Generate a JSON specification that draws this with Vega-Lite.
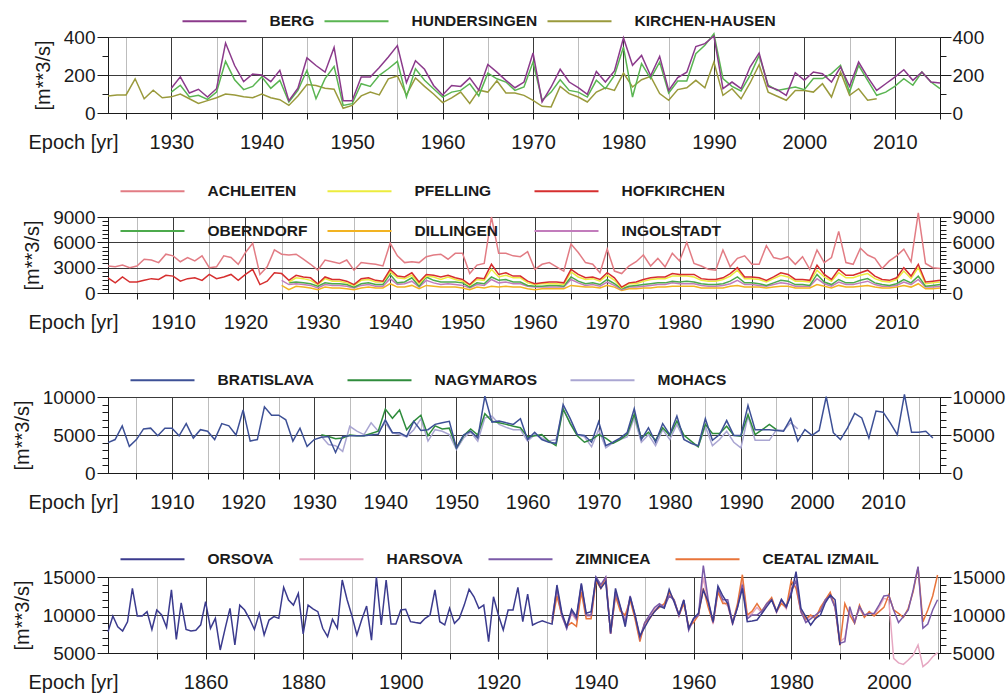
{
"$schema": "https://vega.github.io/schema/vega-lite/v6.json",
"background": "white",
"padding": {"left": 11, "top": 11, "right": 2, "bottom": 0},
"spacing": 104,
"bounds": "flush",
"config": {
  "font": "Liberation Sans",
  "view": {"stroke": "#1a1a1a", "strokeWidth": 1},
  "axis": {"labelFont": "Liberation Sans", "labelFontSize": 20, "labelColor": "#1a1a1a", "titleFont": "Liberation Sans", "titleFontSize": 20, "titleFontWeight": "normal", "titleColor": "#1a1a1a", "domainColor": "#1a1a1a", "tickColor": "#1a1a1a", "labelFlush": false, "labelOverlap": false},
  "axisY": {"labelFontSize": 19},
  "legend": {"symbolType": "M-4,0L4,0", "symbolSize": 256, "symbolStrokeWidth": 2, "labelOffset": 46, "labelFont": "Liberation Sans", "labelFontSize": 15.5, "labelFontWeight": "bold", "labelColor": "#1a1a1a", "labelLimit": 0, "padding": 0, "rowPadding": 22}
},
"resolve": {"scale": {"color": "independent", "x": "independent", "y": "independent"}, "legend": {"color": "independent"}},
"datasets": {
"p1": [
{"t":1923,"KIRCHEN-HAUSEN":90},{"t":1924,"KIRCHEN-HAUSEN":95},{"t":1925,"KIRCHEN-HAUSEN":95},{"t":1926,"KIRCHEN-HAUSEN":180},{"t":1927,"KIRCHEN-HAUSEN":75},{"t":1928,"KIRCHEN-HAUSEN":120},{"t":1929,"KIRCHEN-HAUSEN":80},
{"t":1930,"BERG":130,"HUNDERSINGEN":110,"KIRCHEN-HAUSEN":85},
{"t":1931,"BERG":190,"HUNDERSINGEN":146,"KIRCHEN-HAUSEN":100},
{"t":1932,"BERG":105,"HUNDERSINGEN":84,"KIRCHEN-HAUSEN":75},
{"t":1933,"BERG":125,"HUNDERSINGEN":93,"KIRCHEN-HAUSEN":50},
{"t":1934,"BERG":84,"HUNDERSINGEN":72,"KIRCHEN-HAUSEN":65},
{"t":1935,"BERG":128,"HUNDERSINGEN":110,"KIRCHEN-HAUSEN":80},
{"t":1936,"BERG":368,"HUNDERSINGEN":272,"KIRCHEN-HAUSEN":100},
{"t":1937,"BERG":250,"HUNDERSINGEN":175,"KIRCHEN-HAUSEN":95},
{"t":1938,"BERG":165,"HUNDERSINGEN":123,"KIRCHEN-HAUSEN":85},
{"t":1939,"BERG":205,"HUNDERSINGEN":140,"KIRCHEN-HAUSEN":80},
{"t":1940,"BERG":200,"HUNDERSINGEN":190,"KIRCHEN-HAUSEN":100},
{"t":1941,"BERG":165,"HUNDERSINGEN":130,"KIRCHEN-HAUSEN":80},
{"t":1942,"BERG":225,"HUNDERSINGEN":172,"KIRCHEN-HAUSEN":70},
{"t":1943,"BERG":65,"HUNDERSINGEN":58,"KIRCHEN-HAUSEN":40},
{"t":1944,"BERG":130,"HUNDERSINGEN":119,"KIRCHEN-HAUSEN":90},
{"t":1945,"BERG":290,"HUNDERSINGEN":225,"KIRCHEN-HAUSEN":150},
{"t":1946,"BERG":250,"HUNDERSINGEN":75,"KIRCHEN-HAUSEN":145},
{"t":1947,"BERG":215,"HUNDERSINGEN":181,"KIRCHEN-HAUSEN":130},
{"t":1948,"BERG":345,"HUNDERSINGEN":245,"KIRCHEN-HAUSEN":125},
{"t":1949,"BERG":65,"HUNDERSINGEN":40,"KIRCHEN-HAUSEN":25},
{"t":1950,"BERG":65,"HUNDERSINGEN":49,"KIRCHEN-HAUSEN":40},
{"t":1951,"BERG":190,"HUNDERSINGEN":154,"KIRCHEN-HAUSEN":90},
{"t":1952,"BERG":190,"HUNDERSINGEN":140,"KIRCHEN-HAUSEN":110},
{"t":1953,"BERG":240,"HUNDERSINGEN":198,"KIRCHEN-HAUSEN":95},
{"t":1954,"BERG":295,"HUNDERSINGEN":233,"KIRCHEN-HAUSEN":180},
{"t":1955,"BERG":355,"HUNDERSINGEN":272,"KIRCHEN-HAUSEN":195},
{"t":1956,"BERG":160,"HUNDERSINGEN":84,"KIRCHEN-HAUSEN":95},
{"t":1957,"BERG":275,"HUNDERSINGEN":233,"KIRCHEN-HAUSEN":185},
{"t":1958,"BERG":230,"HUNDERSINGEN":172,"KIRCHEN-HAUSEN":140},
{"t":1959,"BERG":145,"HUNDERSINGEN":128,"KIRCHEN-HAUSEN":100},
{"t":1960,"BERG":95,"HUNDERSINGEN":84,"KIRCHEN-HAUSEN":55},
{"t":1961,"BERG":145,"HUNDERSINGEN":110,"KIRCHEN-HAUSEN":80},
{"t":1962,"BERG":140,"HUNDERSINGEN":119,"KIRCHEN-HAUSEN":110},
{"t":1963,"BERG":185,"HUNDERSINGEN":154,"KIRCHEN-HAUSEN":50},
{"t":1964,"BERG":120,"HUNDERSINGEN":90,"KIRCHEN-HAUSEN":120},
{"t":1965,"BERG":255,"HUNDERSINGEN":210,"KIRCHEN-HAUSEN":110},
{"t":1966,"BERG":215,"HUNDERSINGEN":180,"KIRCHEN-HAUSEN":170},
{"t":1967,"BERG":172,"HUNDERSINGEN":163,"KIRCHEN-HAUSEN":105},
{"t":1968,"BERG":133,"HUNDERSINGEN":119,"KIRCHEN-HAUSEN":105},
{"t":1969,"BERG":163,"HUNDERSINGEN":137,"KIRCHEN-HAUSEN":93},
{"t":1970,"BERG":316,"HUNDERSINGEN":268,"KIRCHEN-HAUSEN":67},
{"t":1971,"BERG":58,"HUNDERSINGEN":67,"KIRCHEN-HAUSEN":35},
{"t":1972,"BERG":137,"HUNDERSINGEN":110,"KIRCHEN-HAUSEN":32},
{"t":1973,"BERG":230,"HUNDERSINGEN":175,"KIRCHEN-HAUSEN":140},
{"t":1974,"BERG":163,"HUNDERSINGEN":119,"KIRCHEN-HAUSEN":102},
{"t":1975,"BERG":133,"HUNDERSINGEN":110,"KIRCHEN-HAUSEN":84},
{"t":1976,"BERG":98,"HUNDERSINGEN":84,"KIRCHEN-HAUSEN":58},
{"t":1977,"BERG":219,"HUNDERSINGEN":172,"KIRCHEN-HAUSEN":110},
{"t":1978,"BERG":163,"HUNDERSINGEN":128,"KIRCHEN-HAUSEN":133},
{"t":1979,"BERG":221,"HUNDERSINGEN":198,"KIRCHEN-HAUSEN":119},
{"t":1980,"BERG":395,"HUNDERSINGEN":347,"KIRCHEN-HAUSEN":210},
{"t":1981,"BERG":251,"HUNDERSINGEN":84,"KIRCHEN-HAUSEN":137},
{"t":1982,"BERG":303,"HUNDERSINGEN":260,"KIRCHEN-HAUSEN":175},
{"t":1983,"BERG":196,"HUNDERSINGEN":181,"KIRCHEN-HAUSEN":193},
{"t":1984,"BERG":298,"HUNDERSINGEN":268,"KIRCHEN-HAUSEN":102},
{"t":1985,"BERG":119,"HUNDERSINGEN":105,"KIRCHEN-HAUSEN":67},
{"t":1986,"BERG":186,"HUNDERSINGEN":168,"KIRCHEN-HAUSEN":123},
{"t":1987,"BERG":215,"HUNDERSINGEN":168,"KIRCHEN-HAUSEN":133},
{"t":1988,"BERG":350,"HUNDERSINGEN":312,"KIRCHEN-HAUSEN":172},
{"t":1989,"BERG":365,"HUNDERSINGEN":356,"KIRCHEN-HAUSEN":133},
{"t":1990,"BERG":405,"HUNDERSINGEN":417,"KIRCHEN-HAUSEN":268},
{"t":1991,"BERG":128,"HUNDERSINGEN":181,"KIRCHEN-HAUSEN":93},
{"t":1992,"BERG":163,"HUNDERSINGEN":140,"KIRCHEN-HAUSEN":128},
{"t":1993,"BERG":128,"HUNDERSINGEN":116,"KIRCHEN-HAUSEN":75},
{"t":1994,"BERG":242,"HUNDERSINGEN":198,"KIRCHEN-HAUSEN":158},
{"t":1995,"BERG":316,"HUNDERSINGEN":303,"KIRCHEN-HAUSEN":254},
{"t":1996,"BERG":140,"HUNDERSINGEN":146,"KIRCHEN-HAUSEN":110},
{"t":1997,"BERG":123,"HUNDERSINGEN":119,"KIRCHEN-HAUSEN":88},
{"t":1998,"BERG":93,"HUNDERSINGEN":128,"KIRCHEN-HAUSEN":67},
{"t":1999,"BERG":212,"HUNDERSINGEN":137,"KIRCHEN-HAUSEN":119},
{"t":2000,"BERG":172,"HUNDERSINGEN":123,"KIRCHEN-HAUSEN":119},
{"t":2001,"BERG":216,"HUNDERSINGEN":181,"KIRCHEN-HAUSEN":110},
{"t":2002,"BERG":207,"HUNDERSINGEN":181,"KIRCHEN-HAUSEN":154},
{"t":2003,"BERG":163,"HUNDERSINGEN":207,"KIRCHEN-HAUSEN":84},
{"t":2004,"BERG":242,"HUNDERSINGEN":251,"KIRCHEN-HAUSEN":216},
{"t":2005,"BERG":140,"HUNDERSINGEN":110,"KIRCHEN-HAUSEN":93},
{"t":2006,"BERG":268,"HUNDERSINGEN":251,"KIRCHEN-HAUSEN":128},
{"t":2007,"BERG":189,"HUNDERSINGEN":172,"KIRCHEN-HAUSEN":67},
{"t":2008,"BERG":119,"HUNDERSINGEN":93,"KIRCHEN-HAUSEN":75},
{"t":2009,"BERG":154,"HUNDERSINGEN":110},
{"t":2010,"BERG":189,"HUNDERSINGEN":140},
{"t":2011,"BERG":228,"HUNDERSINGEN":181},
{"t":2012,"BERG":172,"HUNDERSINGEN":146},
{"t":2013,"BERG":216,"HUNDERSINGEN":216},
{"t":2014,"BERG":163,"HUNDERSINGEN":163},
{"t":2015,"BERG":158,"HUNDERSINGEN":128}
],
"p2": [
{"t":1901,"ACHLEITEN":3200,"HOFKIRCHEN":1800},{"t":1902,"ACHLEITEN":3100,"HOFKIRCHEN":1200},{"t":1903,"ACHLEITEN":3300,"HOFKIRCHEN":1900},{"t":1904,"ACHLEITEN":3000,"HOFKIRCHEN":1300},{"t":1905,"ACHLEITEN":3200,"HOFKIRCHEN":1300},
{"t":1906,"ACHLEITEN":4000,"HOFKIRCHEN":1500},{"t":1907,"ACHLEITEN":3900,"HOFKIRCHEN":1700},{"t":1908,"ACHLEITEN":3600,"HOFKIRCHEN":1600},{"t":1909,"ACHLEITEN":4600,"HOFKIRCHEN":2100},{"t":1910,"ACHLEITEN":4400,"HOFKIRCHEN":2000},
{"t":1911,"ACHLEITEN":3700,"HOFKIRCHEN":1400},{"t":1912,"ACHLEITEN":4200,"HOFKIRCHEN":1700},{"t":1913,"ACHLEITEN":3800,"HOFKIRCHEN":1800},{"t":1914,"ACHLEITEN":4400,"HOFKIRCHEN":1500},{"t":1915,"ACHLEITEN":3000,"HOFKIRCHEN":2200},
{"t":1916,"ACHLEITEN":3100,"HOFKIRCHEN":1700},{"t":1917,"ACHLEITEN":4400,"HOFKIRCHEN":1900},{"t":1918,"ACHLEITEN":4200,"HOFKIRCHEN":2200},{"t":1919,"ACHLEITEN":3400,"HOFKIRCHEN":1500},{"t":1920,"ACHLEITEN":4800,"HOFKIRCHEN":2200},
{"t":1921,"ACHLEITEN":5900,"HOFKIRCHEN":2800},{"t":1922,"ACHLEITEN":2200,"HOFKIRCHEN":1000},{"t":1923,"ACHLEITEN":3100,"HOFKIRCHEN":1400},{"t":1924,"ACHLEITEN":5100,"HOFKIRCHEN":2400},
{"t":1925,"ACHLEITEN":4600,"HOFKIRCHEN":2300,"DILLINGEN":900,"INGOLSTADT":1500},
{"t":1926,"ACHLEITEN":4500,"HOFKIRCHEN":1500,"PFELLING":1300,"OBERNDORF":1200,"DILLINGEN":400,"INGOLSTADT":1000},
{"t":1927,"ACHLEITEN":4600,"HOFKIRCHEN":2100,"PFELLING":1800,"OBERNDORF":1300,"DILLINGEN":800,"INGOLSTADT":1100},
{"t":1928,"ACHLEITEN":4000,"HOFKIRCHEN":1900,"PFELLING":1700,"OBERNDORF":1200,"DILLINGEN":700,"INGOLSTADT":1000},
{"t":1929,"ACHLEITEN":3400,"HOFKIRCHEN":1800,"PFELLING":1500,"OBERNDORF":1100,"DILLINGEN":600,"INGOLSTADT":900},
{"t":1930,"ACHLEITEN":2700,"HOFKIRCHEN":1100,"PFELLING":1000,"OBERNDORF":800,"DILLINGEN":400,"INGOLSTADT":600},
{"t":1931,"ACHLEITEN":3900,"HOFKIRCHEN":1900,"PFELLING":1700,"OBERNDORF":1200,"DILLINGEN":700,"INGOLSTADT":1000},
{"t":1932,"ACHLEITEN":3700,"HOFKIRCHEN":1600,"PFELLING":1400,"OBERNDORF":1100,"DILLINGEN":600,"INGOLSTADT":900},
{"t":1933,"ACHLEITEN":3500,"HOFKIRCHEN":1600,"PFELLING":1400,"OBERNDORF":1100,"DILLINGEN":600,"INGOLSTADT":900},
{"t":1934,"ACHLEITEN":3900,"HOFKIRCHEN":1400,"PFELLING":1200,"OBERNDORF":1000,"DILLINGEN":500,"INGOLSTADT":800},
{"t":1935,"ACHLEITEN":2700,"HOFKIRCHEN":1000,"PFELLING":900,"OBERNDORF":700,"DILLINGEN":400,"INGOLSTADT":600},
{"t":1936,"ACHLEITEN":3600,"HOFKIRCHEN":1700,"PFELLING":1500,"OBERNDORF":1100,"DILLINGEN":600,"INGOLSTADT":900},
{"t":1937,"ACHLEITEN":3500,"HOFKIRCHEN":1800,"PFELLING":1600,"OBERNDORF":1200,"DILLINGEN":700,"INGOLSTADT":1000},
{"t":1938,"ACHLEITEN":3400,"HOFKIRCHEN":1500,"PFELLING":1300,"OBERNDORF":1000,"DILLINGEN":600,"INGOLSTADT":800},
{"t":1939,"ACHLEITEN":3200,"HOFKIRCHEN":1400,"PFELLING":1300,"OBERNDORF":1000,"DILLINGEN":600,"INGOLSTADT":800},
{"t":1940,"ACHLEITEN":5900,"HOFKIRCHEN":2800,"PFELLING":2500,"OBERNDORF":2200,"DILLINGEN":1100,"INGOLSTADT":1700},
{"t":1941,"ACHLEITEN":4400,"HOFKIRCHEN":2000,"PFELLING":1800,"OBERNDORF":1200,"DILLINGEN":700,"INGOLSTADT":1000},
{"t":1942,"ACHLEITEN":3600,"HOFKIRCHEN":1900,"PFELLING":1700,"OBERNDORF":1300,"DILLINGEN":700,"INGOLSTADT":1100},
{"t":1943,"ACHLEITEN":3700,"HOFKIRCHEN":2400,"PFELLING":2100,"OBERNDORF":1800,"DILLINGEN":900,"INGOLSTADT":1400},
{"t":1944,"ACHLEITEN":3600,"HOFKIRCHEN":1300,"PFELLING":1100,"OBERNDORF":800,"DILLINGEN":500,"INGOLSTADT":700},
{"t":1945,"ACHLEITEN":4300,"HOFKIRCHEN":2200,"PFELLING":2000,"OBERNDORF":1900,"DILLINGEN":900,"INGOLSTADT":1500},
{"t":1946,"ACHLEITEN":4500,"HOFKIRCHEN":2100,"PFELLING":1900,"OBERNDORF":1500,"DILLINGEN":800,"INGOLSTADT":1200},
{"t":1947,"ACHLEITEN":4600,"HOFKIRCHEN":1900,"PFELLING":1600,"OBERNDORF":1300,"DILLINGEN":700,"INGOLSTADT":1000},
{"t":1948,"ACHLEITEN":4000,"HOFKIRCHEN":2100,"PFELLING":1900,"OBERNDORF":1300,"DILLINGEN":700,"INGOLSTADT":1100},
{"t":1949,"ACHLEITEN":4700,"HOFKIRCHEN":1800,"PFELLING":1600,"OBERNDORF":1300,"DILLINGEN":700,"INGOLSTADT":1000},
{"t":1950,"ACHLEITEN":4700,"HOFKIRCHEN":1600,"PFELLING":1400,"OBERNDORF":1200,"DILLINGEN":600,"INGOLSTADT":900},
{"t":1951,"ACHLEITEN":2300,"HOFKIRCHEN":1000,"PFELLING":900,"OBERNDORF":700,"DILLINGEN":400,"INGOLSTADT":600},
{"t":1952,"ACHLEITEN":3300,"HOFKIRCHEN":1800,"PFELLING":1600,"OBERNDORF":1200,"DILLINGEN":700,"INGOLSTADT":1000},
{"t":1953,"ACHLEITEN":3500,"HOFKIRCHEN":1700,"PFELLING":1500,"OBERNDORF":1100,"DILLINGEN":600,"INGOLSTADT":900},
{"t":1954,"ACHLEITEN":9000,"HOFKIRCHEN":3400,"PFELLING":2800,"OBERNDORF":1900,"DILLINGEN":800,"INGOLSTADT":1600},
{"t":1955,"ACHLEITEN":4700,"HOFKIRCHEN":2200,"PFELLING":1900,"OBERNDORF":1500,"DILLINGEN":700,"INGOLSTADT":1200},
{"t":1956,"ACHLEITEN":4700,"HOFKIRCHEN":2400,"PFELLING":2100,"OBERNDORF":1600,"DILLINGEN":800,"INGOLSTADT":1300},
{"t":1957,"ACHLEITEN":4400,"HOFKIRCHEN":2000,"PFELLING":1800,"OBERNDORF":1300,"DILLINGEN":700,"INGOLSTADT":1100},
{"t":1958,"ACHLEITEN":4300,"HOFKIRCHEN":2000,"PFELLING":1800,"OBERNDORF":1300,"DILLINGEN":700,"INGOLSTADT":1100},
{"t":1959,"ACHLEITEN":4900,"HOFKIRCHEN":1400,"PFELLING":1200,"OBERNDORF":900,"DILLINGEN":500,"INGOLSTADT":800},
{"t":1960,"ACHLEITEN":2800,"HOFKIRCHEN":1100,"PFELLING":1000,"OBERNDORF":800,"DILLINGEN":400,"INGOLSTADT":700},
{"t":1961,"ACHLEITEN":3400,"HOFKIRCHEN":1200,"PFELLING":1100,"OBERNDORF":800,"DILLINGEN":500,"INGOLSTADT":700},
{"t":1962,"ACHLEITEN":3600,"HOFKIRCHEN":1300,"PFELLING":1100,"OBERNDORF":900,"DILLINGEN":500,"INGOLSTADT":700},
{"t":1963,"ACHLEITEN":3100,"HOFKIRCHEN":1300,"PFELLING":1100,"OBERNDORF":900,"DILLINGEN":500,"INGOLSTADT":700},
{"t":1964,"ACHLEITEN":2600,"HOFKIRCHEN":1200,"PFELLING":1000,"OBERNDORF":800,"DILLINGEN":500,"INGOLSTADT":700},
{"t":1965,"ACHLEITEN":5800,"HOFKIRCHEN":2800,"PFELLING":2500,"OBERNDORF":1900,"DILLINGEN":900,"INGOLSTADT":1600},
{"t":1966,"ACHLEITEN":4800,"HOFKIRCHEN":2200,"PFELLING":1900,"OBERNDORF":1400,"DILLINGEN":800,"INGOLSTADT":1200},
{"t":1967,"ACHLEITEN":3600,"HOFKIRCHEN":1800,"PFELLING":1600,"OBERNDORF":1100,"DILLINGEN":700,"INGOLSTADT":900},
{"t":1968,"ACHLEITEN":3400,"HOFKIRCHEN":1900,"PFELLING":1700,"OBERNDORF":1200,"DILLINGEN":700,"INGOLSTADT":1000},
{"t":1969,"ACHLEITEN":2400,"HOFKIRCHEN":1600,"PFELLING":1400,"OBERNDORF":1000,"DILLINGEN":600,"INGOLSTADT":800},
{"t":1970,"ACHLEITEN":5200,"HOFKIRCHEN":2400,"PFELLING":2100,"OBERNDORF":1600,"DILLINGEN":900,"INGOLSTADT":1300},
{"t":1971,"ACHLEITEN":2600,"HOFKIRCHEN":1800,"PFELLING":1500,"OBERNDORF":1100,"DILLINGEN":700,"INGOLSTADT":900},
{"t":1972,"ACHLEITEN":2300,"HOFKIRCHEN":700,"PFELLING":600,"OBERNDORF":500,"DILLINGEN":300,"INGOLSTADT":400},
{"t":1973,"ACHLEITEN":3200,"HOFKIRCHEN":1200,"PFELLING":1100,"OBERNDORF":800,"DILLINGEN":500,"INGOLSTADT":700},
{"t":1974,"ACHLEITEN":3700,"HOFKIRCHEN":1300,"PFELLING":1100,"OBERNDORF":900,"DILLINGEN":500,"INGOLSTADT":700},
{"t":1975,"ACHLEITEN":4500,"HOFKIRCHEN":1600,"PFELLING":1400,"OBERNDORF":1000,"DILLINGEN":600,"INGOLSTADT":800},
{"t":1976,"ACHLEITEN":3200,"HOFKIRCHEN":1800,"PFELLING":1600,"OBERNDORF":1100,"DILLINGEN":600,"INGOLSTADT":900},
{"t":1977,"ACHLEITEN":4100,"HOFKIRCHEN":1900,"PFELLING":1700,"OBERNDORF":1200,"DILLINGEN":700,"INGOLSTADT":1000},
{"t":1978,"ACHLEITEN":3100,"HOFKIRCHEN":1900,"PFELLING":1700,"OBERNDORF":1200,"DILLINGEN":700,"INGOLSTADT":1000},
{"t":1979,"ACHLEITEN":4700,"HOFKIRCHEN":2300,"PFELLING":2000,"OBERNDORF":1400,"DILLINGEN":800,"INGOLSTADT":1200},
{"t":1980,"ACHLEITEN":3800,"HOFKIRCHEN":2200,"PFELLING":2000,"OBERNDORF":1300,"DILLINGEN":800,"INGOLSTADT":1100},
{"t":1981,"ACHLEITEN":6000,"HOFKIRCHEN":2200,"PFELLING":2000,"OBERNDORF":1400,"DILLINGEN":800,"INGOLSTADT":1100},
{"t":1982,"ACHLEITEN":3500,"HOFKIRCHEN":2200,"PFELLING":1900,"OBERNDORF":1300,"DILLINGEN":800,"INGOLSTADT":1100},
{"t":1983,"ACHLEITEN":3200,"HOFKIRCHEN":1700,"PFELLING":1500,"OBERNDORF":1100,"DILLINGEN":600,"INGOLSTADT":900},
{"t":1984,"ACHLEITEN":2800,"HOFKIRCHEN":1600,"PFELLING":1400,"OBERNDORF":1000,"DILLINGEN":600,"INGOLSTADT":800},
{"t":1985,"ACHLEITEN":2700,"HOFKIRCHEN":1600,"PFELLING":1400,"OBERNDORF":1000,"DILLINGEN":600,"INGOLSTADT":800},
{"t":1986,"ACHLEITEN":5100,"HOFKIRCHEN":1800,"PFELLING":1600,"OBERNDORF":1100,"DILLINGEN":600,"INGOLSTADT":900},
{"t":1987,"ACHLEITEN":3100,"HOFKIRCHEN":2300,"PFELLING":2000,"OBERNDORF":1400,"DILLINGEN":800,"INGOLSTADT":1100},
{"t":1988,"ACHLEITEN":4100,"HOFKIRCHEN":3000,"PFELLING":2700,"OBERNDORF":1900,"DILLINGEN":900,"INGOLSTADT":1500},
{"t":1989,"ACHLEITEN":4400,"HOFKIRCHEN":1900,"PFELLING":1700,"OBERNDORF":1200,"DILLINGEN":700,"INGOLSTADT":1000},
{"t":1990,"ACHLEITEN":3400,"HOFKIRCHEN":1900,"PFELLING":1700,"OBERNDORF":1200,"DILLINGEN":700,"INGOLSTADT":1000},
{"t":1991,"ACHLEITEN":3400,"HOFKIRCHEN":1800,"PFELLING":1600,"OBERNDORF":1100,"DILLINGEN":700,"INGOLSTADT":900},
{"t":1992,"ACHLEITEN":5600,"HOFKIRCHEN":1500,"PFELLING":1300,"OBERNDORF":900,"DILLINGEN":600,"INGOLSTADT":800},
{"t":1993,"ACHLEITEN":4200,"HOFKIRCHEN":1900,"PFELLING":1700,"OBERNDORF":1200,"DILLINGEN":700,"INGOLSTADT":1000},
{"t":1994,"ACHLEITEN":4000,"HOFKIRCHEN":2400,"PFELLING":2100,"OBERNDORF":1500,"DILLINGEN":800,"INGOLSTADT":1200},
{"t":1995,"ACHLEITEN":4300,"HOFKIRCHEN":2200,"PFELLING":1900,"OBERNDORF":1400,"DILLINGEN":800,"INGOLSTADT":1100},
{"t":1996,"ACHLEITEN":3400,"HOFKIRCHEN":1600,"PFELLING":1400,"OBERNDORF":1000,"DILLINGEN":600,"INGOLSTADT":800},
{"t":1997,"ACHLEITEN":4300,"HOFKIRCHEN":1600,"PFELLING":1400,"OBERNDORF":1000,"DILLINGEN":600,"INGOLSTADT":800},
{"t":1998,"ACHLEITEN":2800,"HOFKIRCHEN":1500,"PFELLING":1300,"OBERNDORF":900,"DILLINGEN":600,"INGOLSTADT":800},
{"t":1999,"ACHLEITEN":5100,"HOFKIRCHEN":3300,"PFELLING":2700,"OBERNDORF":2200,"DILLINGEN":1000,"INGOLSTADT":1700},
{"t":2000,"ACHLEITEN":3600,"HOFKIRCHEN":2200,"PFELLING":1900,"OBERNDORF":1300,"DILLINGEN":800,"INGOLSTADT":1100},
{"t":2001,"ACHLEITEN":4200,"HOFKIRCHEN":1600,"PFELLING":1400,"OBERNDORF":1000,"DILLINGEN":600,"INGOLSTADT":800},
{"t":2002,"ACHLEITEN":7300,"HOFKIRCHEN":2800,"PFELLING":2400,"OBERNDORF":1600,"DILLINGEN":900,"INGOLSTADT":1300},
{"t":2003,"ACHLEITEN":3600,"HOFKIRCHEN":2100,"PFELLING":1800,"OBERNDORF":1200,"DILLINGEN":700,"INGOLSTADT":1000},
{"t":2004,"ACHLEITEN":3400,"HOFKIRCHEN":2100,"PFELLING":1800,"OBERNDORF":1200,"DILLINGEN":700,"INGOLSTADT":1000},
{"t":2005,"ACHLEITEN":5300,"HOFKIRCHEN":2400,"PFELLING":2100,"OBERNDORF":1500,"DILLINGEN":800,"INGOLSTADT":1200},
{"t":2006,"ACHLEITEN":4500,"HOFKIRCHEN":2700,"PFELLING":2300,"OBERNDORF":1700,"DILLINGEN":900,"INGOLSTADT":1400},
{"t":2007,"ACHLEITEN":4100,"HOFKIRCHEN":2000,"PFELLING":1700,"OBERNDORF":1200,"DILLINGEN":700,"INGOLSTADT":1000},
{"t":2008,"ACHLEITEN":2900,"HOFKIRCHEN":1600,"PFELLING":1400,"OBERNDORF":1000,"DILLINGEN":600,"INGOLSTADT":800},
{"t":2009,"ACHLEITEN":3800,"HOFKIRCHEN":1500,"PFELLING":1300,"OBERNDORF":900,"DILLINGEN":600,"INGOLSTADT":800},
{"t":2010,"ACHLEITEN":4400,"HOFKIRCHEN":1800,"PFELLING":1600,"OBERNDORF":1100,"DILLINGEN":700,"INGOLSTADT":900},
{"t":2011,"ACHLEITEN":5200,"HOFKIRCHEN":3000,"PFELLING":2600,"OBERNDORF":1600,"DILLINGEN":900,"INGOLSTADT":1300},
{"t":2012,"ACHLEITEN":3700,"HOFKIRCHEN":2000,"PFELLING":1700,"OBERNDORF":1200,"DILLINGEN":700,"INGOLSTADT":1000},
{"t":2013,"ACHLEITEN":9500,"HOFKIRCHEN":3400,"PFELLING":3000,"OBERNDORF":2000,"DILLINGEN":1100,"INGOLSTADT":1600},
{"t":2014,"ACHLEITEN":3500,"HOFKIRCHEN":1300,"PFELLING":1100,"OBERNDORF":800,"DILLINGEN":500,"INGOLSTADT":700},
{"t":2015,"ACHLEITEN":3000,"HOFKIRCHEN":1400,"PFELLING":1200,"OBERNDORF":900,"DILLINGEN":500,"INGOLSTADT":700},
{"t":2016,"ACHLEITEN":2900,"HOFKIRCHEN":1500,"PFELLING":1300,"OBERNDORF":1000,"DILLINGEN":600,"INGOLSTADT":800}
],
"p3": [
{"t":1901,"BRATISLAVA":4000},{"t":1902,"BRATISLAVA":4400},{"t":1903,"BRATISLAVA":6200},{"t":1904,"BRATISLAVA":3500},{"t":1905,"BRATISLAVA":4400},
{"t":1906,"BRATISLAVA":5800},{"t":1907,"BRATISLAVA":5900},{"t":1908,"BRATISLAVA":4900},{"t":1909,"BRATISLAVA":5900},{"t":1910,"BRATISLAVA":5900},
{"t":1911,"BRATISLAVA":4900},{"t":1912,"BRATISLAVA":6500},{"t":1913,"BRATISLAVA":4600},{"t":1914,"BRATISLAVA":5700},{"t":1915,"BRATISLAVA":5500},
{"t":1916,"BRATISLAVA":4400},{"t":1917,"BRATISLAVA":6500},{"t":1918,"BRATISLAVA":6200},{"t":1919,"BRATISLAVA":5000},{"t":1920,"BRATISLAVA":8300},
{"t":1921,"BRATISLAVA":4200},{"t":1922,"BRATISLAVA":4400},{"t":1923,"BRATISLAVA":8700},{"t":1924,"BRATISLAVA":7600},{"t":1925,"BRATISLAVA":7600},
{"t":1926,"BRATISLAVA":7000},{"t":1927,"BRATISLAVA":4200},{"t":1928,"BRATISLAVA":5900},{"t":1929,"BRATISLAVA":3500},{"t":1930,"BRATISLAVA":4400},
{"t":1931,"BRATISLAVA":4700,"NAGYMAROS":5050,"MOHACS":4850},
{"t":1932,"BRATISLAVA":4800,"NAGYMAROS":4800,"MOHACS":3750},
{"t":1933,"BRATISLAVA":2700,"NAGYMAROS":4500,"MOHACS":3600},
{"t":1934,"BRATISLAVA":4800,"NAGYMAROS":4600,"MOHACS":2850},
{"t":1935,"BRATISLAVA":4900,"NAGYMAROS":5000,"MOHACS":6150},
{"t":1936,"BRATISLAVA":4900,"NAGYMAROS":4900,"MOHACS":5500},
{"t":1937,"BRATISLAVA":4900,"NAGYMAROS":4900,"MOHACS":5050},
{"t":1938,"BRATISLAVA":5000,"NAGYMAROS":5200,"MOHACS":6600},
{"t":1939,"BRATISLAVA":5100,"NAGYMAROS":5500,"MOHACS":5500},
{"t":1940,"BRATISLAVA":7000,"NAGYMAROS":8400,"MOHACS":6600},
{"t":1941,"BRATISLAVA":5300,"NAGYMAROS":7200,"MOHACS":5300},
{"t":1942,"BRATISLAVA":5300,"NAGYMAROS":8300,"MOHACS":5050},
{"t":1943,"BRATISLAVA":4800,"NAGYMAROS":5700,"MOHACS":4750},
{"t":1944,"BRATISLAVA":6800,"NAGYMAROS":6800,"MOHACS":5700},
{"t":1945,"BRATISLAVA":5600,"NAGYMAROS":7600,"MOHACS":7150},
{"t":1946,"BRATISLAVA":5700,"NAGYMAROS":4900,"MOHACS":4200},
{"t":1947,"BRATISLAVA":6400,"NAGYMAROS":6200,"MOHACS":5700},
{"t":1948,"BRATISLAVA":6600,"NAGYMAROS":5800,"MOHACS":5500},
{"t":1949,"BRATISLAVA":6800,"NAGYMAROS":5900,"MOHACS":5050},
{"t":1950,"BRATISLAVA":3300,"NAGYMAROS":3300,"MOHACS":3100},
{"t":1951,"BRATISLAVA":5000,"NAGYMAROS":4900,"MOHACS":4600},
{"t":1952,"BRATISLAVA":5500,"NAGYMAROS":5800,"MOHACS":5400},
{"t":1953,"BRATISLAVA":4600,"NAGYMAROS":5000,"MOHACS":4200},
{"t":1954,"BRATISLAVA":10100,"NAGYMAROS":7800,"MOHACS":7250},
{"t":1955,"BRATISLAVA":6700,"NAGYMAROS":6800,"MOHACS":7500},
{"t":1956,"BRATISLAVA":6850,"NAGYMAROS":6600,"MOHACS":6400},
{"t":1957,"BRATISLAVA":6600,"NAGYMAROS":6400,"MOHACS":6000},
{"t":1958,"BRATISLAVA":6400,"NAGYMAROS":6150,"MOHACS":5700},
{"t":1959,"BRATISLAVA":7150,"NAGYMAROS":5950,"MOHACS":5700},
{"t":1960,"BRATISLAVA":4400,"NAGYMAROS":4750,"MOHACS":4200},
{"t":1961,"BRATISLAVA":5350,"NAGYMAROS":4900,"MOHACS":5050},
{"t":1962,"BRATISLAVA":4400,"NAGYMAROS":5050,"MOHACS":4600},
{"t":1963,"BRATISLAVA":4050,"NAGYMAROS":4200,"MOHACS":4200},
{"t":1964,"BRATISLAVA":3900,"NAGYMAROS":3600,"MOHACS":4400},
{"t":1965,"BRATISLAVA":9000,"NAGYMAROS":8450,"MOHACS":8350},
{"t":1966,"BRATISLAVA":7150,"NAGYMAROS":6500,"MOHACS":6600},
{"t":1967,"BRATISLAVA":5050,"NAGYMAROS":4900,"MOHACS":5050},
{"t":1968,"BRATISLAVA":4950,"NAGYMAROS":4050,"MOHACS":4750},
{"t":1969,"BRATISLAVA":4050,"NAGYMAROS":4400,"MOHACS":3450},
{"t":1970,"BRATISLAVA":6750,"NAGYMAROS":5050,"MOHACS":5700},
{"t":1971,"BRATISLAVA":3600,"NAGYMAROS":4600,"MOHACS":3300},
{"t":1972,"BRATISLAVA":4050,"NAGYMAROS":3900,"MOHACS":3950},
{"t":1973,"BRATISLAVA":4600,"NAGYMAROS":4400,"MOHACS":4400},
{"t":1974,"BRATISLAVA":5300,"NAGYMAROS":5050,"MOHACS":4750},
{"t":1975,"BRATISLAVA":8450,"NAGYMAROS":7700,"MOHACS":7250},
{"t":1976,"BRATISLAVA":4400,"NAGYMAROS":4600,"MOHACS":4050},
{"t":1977,"BRATISLAVA":5950,"NAGYMAROS":5350,"MOHACS":5050},
{"t":1978,"BRATISLAVA":4050,"NAGYMAROS":4300,"MOHACS":3600},
{"t":1979,"BRATISLAVA":6500,"NAGYMAROS":5950,"MOHACS":5700},
{"t":1980,"BRATISLAVA":5050,"NAGYMAROS":4950,"MOHACS":4400},
{"t":1981,"BRATISLAVA":7500,"NAGYMAROS":6850,"MOHACS":6400},
{"t":1982,"BRATISLAVA":4400,"NAGYMAROS":4950,"MOHACS":4400},
{"t":1983,"BRATISLAVA":3900,"NAGYMAROS":4200,"MOHACS":3950},
{"t":1984,"BRATISLAVA":3600,"NAGYMAROS":3450,"MOHACS":3450},
{"t":1985,"BRATISLAVA":7150,"NAGYMAROS":6400,"MOHACS":6150},
{"t":1986,"BRATISLAVA":4300,"NAGYMAROS":5200,"MOHACS":3600},
{"t":1987,"BRATISLAVA":5050,"NAGYMAROS":5200,"MOHACS":4400},
{"t":1988,"BRATISLAVA":6900,"NAGYMAROS":6150,"MOHACS":5500},
{"t":1989,"BRATISLAVA":4950,"NAGYMAROS":4950,"MOHACS":4050},
{"t":1990,"BRATISLAVA":4950,"NAGYMAROS":4850,"MOHACS":3300},
{"t":1991,"BRATISLAVA":8900,"NAGYMAROS":7700,"MOHACS":7500},
{"t":1992,"BRATISLAVA":5700,"NAGYMAROS":5050,"MOHACS":4300},
{"t":1993,"BRATISLAVA":5700,"NAGYMAROS":5700,"MOHACS":4300},
{"t":1994,"BRATISLAVA":5700,"NAGYMAROS":6400,"MOHACS":4300},
{"t":1995,"BRATISLAVA":5600,"NAGYMAROS":5700,"MOHACS":5700},
{"t":1996,"BRATISLAVA":5500,"MOHACS":5600},
{"t":1997,"BRATISLAVA":7150,"MOHACS":6600},
{"t":1998,"BRATISLAVA":4200,"MOHACS":5800},
{"t":1999,"BRATISLAVA":5700},{"t":2000,"BRATISLAVA":4950},{"t":2001,"BRATISLAVA":5600},{"t":2002,"BRATISLAVA":10050},{"t":2003,"BRATISLAVA":5300},
{"t":2004,"BRATISLAVA":4400},{"t":2005,"BRATISLAVA":5950},{"t":2006,"BRATISLAVA":7850},{"t":2007,"BRATISLAVA":7250},{"t":2008,"BRATISLAVA":4600},
{"t":2009,"BRATISLAVA":8150},{"t":2010,"BRATISLAVA":8000},{"t":2011,"BRATISLAVA":6600},{"t":2012,"BRATISLAVA":5050},{"t":2013,"BRATISLAVA":10350},
{"t":2014,"BRATISLAVA":5350},{"t":2015,"BRATISLAVA":5350},{"t":2016,"BRATISLAVA":5500},{"t":2017,"BRATISLAVA":4600}
],
"p4": [
{"t":1840,"ORSOVA":7800},{"t":1841,"ORSOVA":9870},{"t":1842,"ORSOVA":8460},{"t":1843,"ORSOVA":7900},{"t":1844,"ORSOVA":9100},
{"t":1845,"ORSOVA":13500},{"t":1846,"ORSOVA":9870},{"t":1847,"ORSOVA":9870},{"t":1848,"ORSOVA":10440},{"t":1849,"ORSOVA":8100},
{"t":1850,"ORSOVA":10660},{"t":1851,"ORSOVA":10000},{"t":1852,"ORSOVA":8380},{"t":1853,"ORSOVA":13300},{"t":1854,"ORSOVA":6800},
{"t":1855,"ORSOVA":11600},{"t":1856,"ORSOVA":8100},{"t":1857,"ORSOVA":7900},{"t":1858,"ORSOVA":8000},{"t":1859,"ORSOVA":8700},
{"t":1860,"ORSOVA":11750},{"t":1861,"ORSOVA":8250},{"t":1862,"ORSOVA":9560},{"t":1863,"ORSOVA":5400},{"t":1864,"ORSOVA":8200},
{"t":1865,"ORSOVA":10880},{"t":1866,"ORSOVA":6050},{"t":1867,"ORSOVA":11300},{"t":1868,"ORSOVA":10650},{"t":1869,"ORSOVA":9500},
{"t":1870,"ORSOVA":8100},{"t":1871,"ORSOVA":10220},{"t":1872,"ORSOVA":7370},{"t":1873,"ORSOVA":9340},{"t":1874,"ORSOVA":9800},
{"t":1875,"ORSOVA":9560},{"t":1876,"ORSOVA":13640},{"t":1877,"ORSOVA":11970},{"t":1878,"ORSOVA":11300},{"t":1879,"ORSOVA":12850},
{"t":1880,"ORSOVA":7500},{"t":1881,"ORSOVA":11300},{"t":1882,"ORSOVA":10800},{"t":1883,"ORSOVA":10440},{"t":1884,"ORSOVA":8250},
{"t":1885,"ORSOVA":7150},{"t":1886,"ORSOVA":9430},{"t":1887,"ORSOVA":8250},{"t":1888,"ORSOVA":14600},{"t":1889,"ORSOVA":12000},
{"t":1890,"ORSOVA":9870},{"t":1891,"ORSOVA":7370},{"t":1892,"ORSOVA":9400},{"t":1893,"ORSOVA":11180},{"t":1894,"ORSOVA":6700},
{"t":1895,"ORSOVA":15000},{"t":1896,"ORSOVA":8680},{"t":1897,"ORSOVA":14600},{"t":1898,"ORSOVA":8820},{"t":1899,"ORSOVA":8820},
{"t":1900,"ORSOVA":10660},{"t":1901,"ORSOVA":10750},{"t":1902,"ORSOVA":9120},{"t":1903,"ORSOVA":9000},{"t":1904,"ORSOVA":8900},
{"t":1905,"ORSOVA":9560},{"t":1906,"ORSOVA":10000},{"t":1907,"ORSOVA":13300},{"t":1908,"ORSOVA":9120},{"t":1909,"ORSOVA":8700},
{"t":1910,"ORSOVA":10880},{"t":1911,"ORSOVA":8900},{"t":1912,"ORSOVA":9560},{"t":1913,"ORSOVA":11300},{"t":1914,"ORSOVA":13380},
{"t":1915,"ORSOVA":12400},{"t":1916,"ORSOVA":10880},{"t":1917,"ORSOVA":11300},{"t":1918,"ORSOVA":6500},{"t":1919,"ORSOVA":12400},
{"t":1920,"ORSOVA":10000},{"t":1921,"ORSOVA":8030},{"t":1922,"ORSOVA":10660},{"t":1923,"ORSOVA":10660},{"t":1924,"ORSOVA":13640},
{"t":1925,"ORSOVA":9120},{"t":1926,"ORSOVA":12760},{"t":1927,"ORSOVA":8680},{"t":1928,"ORSOVA":9000},{"t":1929,"ORSOVA":9250},
{"t":1930,"ORSOVA":9000},
{"t":1931,"ORSOVA":8800,"ZIMNICEA":9500,"CEATAL IZMAIL":9000,"HARSOVA":9200},
{"t":1932,"ORSOVA":13950,"ZIMNICEA":13500,"CEATAL IZMAIL":12500,"HARSOVA":13000},
{"t":1933,"ORSOVA":10300,"ZIMNICEA":10000,"CEATAL IZMAIL":10000,"HARSOVA":9800},
{"t":1934,"ORSOVA":8460,"ZIMNICEA":8200,"CEATAL IZMAIL":8500,"HARSOVA":8300},
{"t":1935,"ORSOVA":10750,"ZIMNICEA":10500,"CEATAL IZMAIL":9000,"HARSOVA":10200},
{"t":1936,"ORSOVA":9780,"ZIMNICEA":9500,"CEATAL IZMAIL":8500,"HARSOVA":9300},
{"t":1937,"ORSOVA":14170,"ZIMNICEA":14000,"CEATAL IZMAIL":13000,"HARSOVA":13500},
{"t":1938,"ORSOVA":10220,"ZIMNICEA":10000,"CEATAL IZMAIL":9500,"HARSOVA":9800},
{"t":1939,"ORSOVA":10440,"ZIMNICEA":10000,"CEATAL IZMAIL":9500,"HARSOVA":9800},
{"t":1940,"ORSOVA":14820,"ZIMNICEA":15000,"CEATAL IZMAIL":14500,"HARSOVA":14500},
{"t":1941,"ORSOVA":13500,"ZIMNICEA":14000,"CEATAL IZMAIL":13500,"HARSOVA":13800},
{"t":1942,"ORSOVA":14400,"ZIMNICEA":15000,"CEATAL IZMAIL":15000,"HARSOVA":14800},
{"t":1943,"ORSOVA":7680,"ZIMNICEA":7500,"CEATAL IZMAIL":7500,"HARSOVA":7600},
{"t":1944,"ORSOVA":13500,"ZIMNICEA":13000,"CEATAL IZMAIL":12500,"HARSOVA":12800},
{"t":1945,"ORSOVA":11100,"ZIMNICEA":11000,"CEATAL IZMAIL":10500,"HARSOVA":10800},
{"t":1946,"ORSOVA":8460,"ZIMNICEA":9000,"CEATAL IZMAIL":10000,"HARSOVA":9400},
{"t":1947,"ORSOVA":12400,"ZIMNICEA":12500,"CEATAL IZMAIL":12000,"HARSOVA":12200},
{"t":1948,"ORSOVA":10000,"ZIMNICEA":10000,"CEATAL IZMAIL":9500,"HARSOVA":9800},
{"t":1949,"ORSOVA":7240,"ZIMNICEA":7000,"CEATAL IZMAIL":6500,"HARSOVA":6800},
{"t":1950,"ORSOVA":8400,"ZIMNICEA":9000,"CEATAL IZMAIL":9000,"HARSOVA":8800},
{"t":1951,"ORSOVA":9560,"ZIMNICEA":10000,"CEATAL IZMAIL":9500,"HARSOVA":9800},
{"t":1952,"ORSOVA":10440,"ZIMNICEA":11000,"CEATAL IZMAIL":10500,"HARSOVA":10800},
{"t":1953,"ORSOVA":11180,"ZIMNICEA":11500,"CEATAL IZMAIL":11000,"HARSOVA":11300},
{"t":1954,"ORSOVA":10880,"ZIMNICEA":11000,"CEATAL IZMAIL":11500,"HARSOVA":11200},
{"t":1955,"ORSOVA":13380,"ZIMNICEA":12500,"CEATAL IZMAIL":13000,"HARSOVA":12800},
{"t":1956,"ORSOVA":11750,"ZIMNICEA":12000,"CEATAL IZMAIL":12000,"HARSOVA":11800},
{"t":1957,"ORSOVA":10000,"ZIMNICEA":10000,"CEATAL IZMAIL":10000,"HARSOVA":9800},
{"t":1958,"ORSOVA":11970,"ZIMNICEA":12000,"CEATAL IZMAIL":11500,"HARSOVA":11800},
{"t":1959,"ORSOVA":8250,"ZIMNICEA":8000,"CEATAL IZMAIL":8500,"HARSOVA":8200},
{"t":1960,"ORSOVA":9560,"ZIMNICEA":9500,"CEATAL IZMAIL":9000,"HARSOVA":9200},
{"t":1961,"ORSOVA":10220,"ZIMNICEA":10000,"CEATAL IZMAIL":10000,"HARSOVA":9900},
{"t":1962,"ORSOVA":13300,"ZIMNICEA":16500,"CEATAL IZMAIL":13500,"HARSOVA":15000},
{"t":1963,"ORSOVA":11750,"ZIMNICEA":12000,"CEATAL IZMAIL":11000,"HARSOVA":11500},
{"t":1964,"ORSOVA":9120,"ZIMNICEA":9000,"CEATAL IZMAIL":9000,"HARSOVA":8800},
{"t":1965,"ORSOVA":13800,"ZIMNICEA":13500,"CEATAL IZMAIL":13000,"HARSOVA":13200},
{"t":1966,"ORSOVA":12500,"ZIMNICEA":12000,"CEATAL IZMAIL":11500,"HARSOVA":11800},
{"t":1967,"ORSOVA":11500,"ZIMNICEA":12000,"CEATAL IZMAIL":11500,"HARSOVA":11200},
{"t":1968,"ORSOVA":8900,"ZIMNICEA":9000,"CEATAL IZMAIL":9000,"HARSOVA":8700},
{"t":1969,"ORSOVA":11000,"ZIMNICEA":11000,"CEATAL IZMAIL":11500,"HARSOVA":11200},
{"t":1970,"ORSOVA":13500,"ZIMNICEA":14000,"CEATAL IZMAIL":15300,"HARSOVA":14500},
{"t":1971,"ORSOVA":9120,"ZIMNICEA":9500,"CEATAL IZMAIL":10000,"HARSOVA":9800},
{"t":1972,"ORSOVA":9200,"ZIMNICEA":10000,"CEATAL IZMAIL":10500,"HARSOVA":10200},
{"t":1973,"ORSOVA":9340,"ZIMNICEA":10000,"CEATAL IZMAIL":11500,"HARSOVA":11000},
{"t":1974,"ORSOVA":10200,"ZIMNICEA":10500,"CEATAL IZMAIL":10500,"HARSOVA":10300},
{"t":1975,"ORSOVA":11100,"ZIMNICEA":11500,"CEATAL IZMAIL":11500,"HARSOVA":11300},
{"t":1976,"ORSOVA":11970,"ZIMNICEA":12000,"CEATAL IZMAIL":12300,"HARSOVA":12100},
{"t":1977,"ORSOVA":10440,"ZIMNICEA":10500,"CEATAL IZMAIL":10500,"HARSOVA":10300},
{"t":1978,"ORSOVA":12060,"ZIMNICEA":12000,"CEATAL IZMAIL":11500,"HARSOVA":11700},
{"t":1979,"ORSOVA":11100,"ZIMNICEA":11000,"CEATAL IZMAIL":11000,"HARSOVA":10800},
{"t":1980,"ORSOVA":12630,"ZIMNICEA":13000,"CEATAL IZMAIL":14500,"HARSOVA":13800},
{"t":1981,"ORSOVA":15700,"ZIMNICEA":14500,"CEATAL IZMAIL":13500,"HARSOVA":13800},
{"t":1982,"ORSOVA":10880,"ZIMNICEA":10500,"CEATAL IZMAIL":10500,"HARSOVA":10300},
{"t":1983,"ORSOVA":9800,"ZIMNICEA":9000,"CEATAL IZMAIL":9500,"HARSOVA":9300},
{"t":1984,"ORSOVA":8680,"ZIMNICEA":9500,"CEATAL IZMAIL":10000,"HARSOVA":9800},
{"t":1985,"ORSOVA":9560,"ZIMNICEA":10000,"CEATAL IZMAIL":9500,"HARSOVA":9800},
{"t":1986,"ORSOVA":10000,"ZIMNICEA":10500,"CEATAL IZMAIL":11000,"HARSOVA":10800},
{"t":1987,"ORSOVA":11600,"ZIMNICEA":12000,"CEATAL IZMAIL":12000,"HARSOVA":11800},
{"t":1988,"ORSOVA":12630,"ZIMNICEA":12500,"CEATAL IZMAIL":13000,"HARSOVA":12800},
{"t":1989,"ORSOVA":12000,"ZIMNICEA":11000,"CEATAL IZMAIL":11000,"HARSOVA":11000},
{"t":1990,"ORSOVA":6050,"ZIMNICEA":6270,"CEATAL IZMAIL":6000,"HARSOVA":6500},
{"t":1991,"ZIMNICEA":6500,"CEATAL IZMAIL":11500,"HARSOVA":7000},
{"t":1992,"ZIMNICEA":11100,"CEATAL IZMAIL":10000,"HARSOVA":10500},
{"t":1993,"ZIMNICEA":9000,"CEATAL IZMAIL":8900,"HARSOVA":9300},
{"t":1994,"ZIMNICEA":11100,"CEATAL IZMAIL":11300,"HARSOVA":10800},
{"t":1995,"ZIMNICEA":10000,"CEATAL IZMAIL":9700,"HARSOVA":9800},
{"t":1996,"ZIMNICEA":10200,"CEATAL IZMAIL":10440,"HARSOVA":10400},
{"t":1997,"ZIMNICEA":10200,"CEATAL IZMAIL":9870,"HARSOVA":10000},
{"t":1998,"ZIMNICEA":11300,"CEATAL IZMAIL":10440,"HARSOVA":11000},
{"t":1999,"ZIMNICEA":12500,"CEATAL IZMAIL":11000,"HARSOVA":12200},
{"t":2000,"ZIMNICEA":12600,"CEATAL IZMAIL":12630,"HARSOVA":12000},
{"t":2001,"ZIMNICEA":10660,"CEATAL IZMAIL":10660,"HARSOVA":4300},
{"t":2002,"ZIMNICEA":9000,"CEATAL IZMAIL":10220,"HARSOVA":3700},
{"t":2003,"ZIMNICEA":9800,"CEATAL IZMAIL":9700,"HARSOVA":3500},
{"t":2004,"ZIMNICEA":10660,"CEATAL IZMAIL":10880,"HARSOVA":4080},
{"t":2005,"ZIMNICEA":13300,"CEATAL IZMAIL":13070,"HARSOVA":4740},
{"t":2006,"ZIMNICEA":16360,"CEATAL IZMAIL":16270,"HARSOVA":6050},
{"t":2007,"ZIMNICEA":8250,"CEATAL IZMAIL":9120,"HARSOVA":3200},
{"t":2008,"ZIMNICEA":8820,"CEATAL IZMAIL":10660,"HARSOVA":3730},
{"t":2009,"ZIMNICEA":10660,"CEATAL IZMAIL":12500,"HARSOVA":4500},
{"t":2010,"ZIMNICEA":12000,"CEATAL IZMAIL":15260,"HARSOVA":5050}
]
},
"vconcat": [
{
 "width": 832, "height": 76,
 "data": {"name": "p1"},
 "transform": [{"fold": ["KIRCHEN-HAUSEN", "HUNDERSINGEN", "BERG"], "as": ["station", "q"]}],
 "encoding": {
  "x": {"field": "t", "type": "quantitative", "scale": {"domain": [1923, 2015], "nice": false, "zero": false},
    "axis": {"values": [1925,1930,1935,1940,1945,1950,1955,1960,1965,1970,1975,1980,1985,1990,1995,2000,2005,2010,2015], "format": "d", "labelExpr": "datum.value % 10 === 0 ? datum.label : ''", "grid": true, "gridColor": {"condition": {"test": "datum.value % 10 === 0", "value": "#3a3a3a"}, "value": "#bdbdbd"}, "tickSize": 6, "labelPadding": 29, "labelBaseline": "alphabetic", "title": "Epoch [yr]", "titleX": -80, "titleY": 35, "titleAlign": "left", "titleAnchor": "start", "titleBaseline": "alphabetic", "titleAngle": 0}}
 },
 "layer": [
  {"mark": {"type": "line", "strokeWidth": 1.5, "clip": false},
   "encoding": {
    "y": {"field": "q", "type": "quantitative", "scale": {"domain": [0, 400], "nice": false, "zero": false},
      "axis": {"values": [0,100,200,300,400], "format": "d", "labelExpr": "datum.value % 200 === 0 ? datum.label : ''", "grid": true, "gridColor": "#3a3a3a", "gridOpacity": {"condition": {"test": "datum.value % 200 === 0", "value": 1}, "value": 0}, "tickSize": {"condition": {"test": "datum.value % 200 === 0", "value": 11}, "value": 6}, "labelPadding": 2, "title": "[m**3/s]", "titlePadding": 10}},
    "color": {"field": "station", "type": "nominal", "scale": {"domain": ["BERG", "HUNDERSINGEN", "KIRCHEN-HAUSEN"], "range": ["#8b3a8b", "#5ab552", "#9a9a3c"]},
      "legend": {"title": null, "orient": "none", "legendX": 97.5, "legendY": -25, "direction": "horizontal", "columns": 3, "columnPadding": 6}}
   }},
  {"mark": {"type": "point", "opacity": 0, "size": 1},
   "encoding": {
    "y": {"field": "q", "type": "quantitative", "scale": {"domain": [0, 400], "nice": false, "zero": false},
      "axis": {"orient": "right", "values": [0,100,200,300,400], "format": "d", "labelExpr": "datum.value % 200 === 0 ? datum.label : ''", "grid": false, "tickSize": {"condition": {"test": "datum.value % 200 === 0", "value": 11}, "value": 6}, "labelPadding": 1, "title": null}}
   }}
 ],
 "resolve": {"axis": {"y": "independent"}}
},
{
 "width": 832, "height": 76,
 "data": {"name": "p2"},
 "transform": [{"fold": ["ACHLEITEN", "DILLINGEN", "INGOLSTADT", "OBERNDORF", "PFELLING", "HOFKIRCHEN"], "as": ["station", "q"]}],
 "encoding": {
  "x": {"field": "t", "type": "quantitative", "scale": {"domain": [1901, 2016], "nice": false, "zero": false},
    "axis": {"values": [1905,1910,1915,1920,1925,1930,1935,1940,1945,1950,1955,1960,1965,1970,1975,1980,1985,1990,1995,2000,2005,2010,2015], "format": "d", "labelExpr": "datum.value % 10 === 0 ? datum.label : ''", "grid": true, "gridColor": {"condition": {"test": "datum.value % 10 === 0", "value": "#3a3a3a"}, "value": "#bdbdbd"}, "tickSize": 6, "labelPadding": 29, "labelBaseline": "alphabetic", "title": "Epoch [yr]", "titleX": -80, "titleY": 35, "titleAlign": "left", "titleAnchor": "start", "titleBaseline": "alphabetic", "titleAngle": 0}}
 },
 "layer": [
  {"mark": {"type": "line", "strokeWidth": 1.5, "clip": false},
   "encoding": {
    "y": {"field": "q", "type": "quantitative", "scale": {"domain": [0, 9000], "nice": false, "zero": false},
      "axis": {"values": [0,500,1000,1500,2000,2500,3000,3500,4000,4500,5000,5500,6000,6500,7000,7500,8000,8500,9000], "format": "d", "labelExpr": "datum.value % 3000 === 0 ? datum.label : ''", "grid": true, "gridColor": "#3a3a3a", "gridOpacity": {"condition": {"test": "datum.value % 3000 === 0", "value": 1}, "value": 0}, "tickSize": {"condition": {"test": "datum.value % 3000 === 0", "value": 11}, "value": 6}, "labelPadding": 2, "title": "[m**3/s]", "titlePadding": 10}},
    "color": {"field": "station", "type": "nominal", "scale": {"domain": ["ACHLEITEN", "PFELLING", "HOFKIRCHEN", "OBERNDORF", "DILLINGEN", "INGOLSTADT"], "range": ["#e27c84", "#ecec3e", "#d62f2f", "#4caa4c", "#f2b322", "#c27cbc"]},
      "legend": {"title": null, "orient": "none", "legendX": 35.5, "legendY": -35, "direction": "horizontal", "columns": 3, "columnPadding": 12, "gridAlign": "all"}}
   }},
  {"mark": {"type": "point", "opacity": 0, "size": 1},
   "encoding": {
    "y": {"field": "q", "type": "quantitative", "scale": {"domain": [0, 9000], "nice": false, "zero": false},
      "axis": {"orient": "right", "values": [0,500,1000,1500,2000,2500,3000,3500,4000,4500,5000,5500,6000,6500,7000,7500,8000,8500,9000], "format": "d", "labelExpr": "datum.value % 3000 === 0 ? datum.label : ''", "grid": false, "tickSize": {"condition": {"test": "datum.value % 3000 === 0", "value": 11}, "value": 6}, "labelPadding": 1, "title": null}}
   }}
 ],
 "resolve": {"axis": {"y": "independent"}}
},
{
 "width": 832, "height": 76,
 "data": {"name": "p3"},
 "transform": [{"fold": ["MOHACS", "NAGYMAROS", "BRATISLAVA"], "as": ["station", "q"]}],
 "encoding": {
  "x": {"field": "t", "type": "quantitative", "scale": {"domain": [1901, 2018], "nice": false, "zero": false},
    "axis": {"values": [1905,1910,1915,1920,1925,1930,1935,1940,1945,1950,1955,1960,1965,1970,1975,1980,1985,1990,1995,2000,2005,2010,2015], "format": "d", "labelExpr": "datum.value % 10 === 0 ? datum.label : ''", "grid": true, "gridColor": {"condition": {"test": "datum.value % 10 === 0", "value": "#3a3a3a"}, "value": "#bdbdbd"}, "tickSize": 6, "labelPadding": 29, "labelBaseline": "alphabetic", "title": "Epoch [yr]", "titleX": -80, "titleY": 35, "titleAlign": "left", "titleAnchor": "start", "titleBaseline": "alphabetic", "titleAngle": 0}}
 },
 "layer": [
  {"mark": {"type": "line", "strokeWidth": 1.5, "clip": false},
   "encoding": {
    "y": {"field": "q", "type": "quantitative", "scale": {"domain": [0, 10000], "nice": false, "zero": false},
      "axis": {"values": [0,1000,2000,3000,4000,5000,6000,7000,8000,9000,10000], "format": "d", "labelExpr": "datum.value % 5000 === 0 ? datum.label : ''", "grid": true, "gridColor": "#3a3a3a", "gridOpacity": {"condition": {"test": "datum.value % 5000 === 0", "value": 1}, "value": 0}, "tickSize": {"condition": {"test": "datum.value % 5000 === 0", "value": 11}, "value": 6}, "labelPadding": 2, "title": "[m**3/s]", "titlePadding": 10}},
    "color": {"field": "station", "type": "nominal", "scale": {"domain": ["BRATISLAVA", "NAGYMAROS", "MOHACS"], "range": ["#3d5096", "#2f8c3c", "#aaa6d2"]},
      "legend": {"title": null, "orient": "none", "legendX": 45.5, "legendY": -26, "direction": "horizontal", "columns": 3, "columnPadding": 29}}
   }},
  {"mark": {"type": "point", "opacity": 0, "size": 1},
   "encoding": {
    "y": {"field": "q", "type": "quantitative", "scale": {"domain": [0, 10000], "nice": false, "zero": false},
      "axis": {"orient": "right", "values": [0,1000,2000,3000,4000,5000,6000,7000,8000,9000,10000], "format": "d", "labelExpr": "datum.value % 5000 === 0 ? datum.label : ''", "grid": false, "tickSize": {"condition": {"test": "datum.value % 5000 === 0", "value": 11}, "value": 6}, "labelPadding": 1, "title": null}}
   }}
 ],
 "resolve": {"axis": {"y": "independent"}}
},
{
 "width": 832, "height": 76,
 "data": {"name": "p4"},
 "transform": [{"fold": ["HARSOVA", "CEATAL IZMAIL", "ZIMNICEA", "ORSOVA"], "as": ["station", "q"]}],
 "encoding": {
  "x": {"field": "t", "type": "quantitative", "scale": {"domain": [1840, 2010.5], "nice": false, "zero": false},
    "axis": {"values": [1850,1860,1870,1880,1890,1900,1910,1920,1930,1940,1950,1960,1970,1980,1990,2000,2010], "format": "d", "labelExpr": "datum.value % 20 === 0 ? datum.label : ''", "grid": true, "gridColor": {"condition": {"test": "datum.value % 20 === 0", "value": "#3a3a3a"}, "value": "#bdbdbd"}, "tickSize": 6, "labelPadding": 29, "labelBaseline": "alphabetic", "title": "Epoch [yr]", "titleX": -80, "titleY": 35, "titleAlign": "left", "titleAnchor": "start", "titleBaseline": "alphabetic", "titleAngle": 0}}
 },
 "layer": [
  {"mark": {"type": "line", "strokeWidth": 1.5, "clip": false},
   "encoding": {
    "y": {"field": "q", "type": "quantitative", "scale": {"domain": [5000, 15000], "nice": false, "zero": false},
      "axis": {"values": [5000,6000,7000,8000,9000,10000,11000,12000,13000,14000,15000], "format": "d", "labelExpr": "datum.value % 5000 === 0 ? datum.label : ''", "grid": true, "gridColor": "#3a3a3a", "gridOpacity": {"condition": {"test": "datum.value % 5000 === 0", "value": 1}, "value": 0}, "tickSize": {"condition": {"test": "datum.value % 5000 === 0", "value": 11}, "value": 6}, "labelPadding": 2, "title": "[m**3/s]", "titlePadding": 10}},
    "color": {"field": "station", "type": "nominal", "scale": {"domain": ["ORSOVA", "HARSOVA", "ZIMNICEA", "CEATAL IZMAIL"], "range": ["#3b3b8e", "#e6a8c2", "#7b5ba8", "#e8743a"]},
      "legend": {"title": null, "orient": "none", "legendX": 35.5, "legendY": -27, "direction": "horizontal", "columns": 4, "columnPadding": 21}}
   }},
  {"mark": {"type": "point", "opacity": 0, "size": 1},
   "encoding": {
    "y": {"field": "q", "type": "quantitative", "scale": {"domain": [5000, 15000], "nice": false, "zero": false},
      "axis": {"orient": "right", "values": [5000,6000,7000,8000,9000,10000,11000,12000,13000,14000,15000], "format": "d", "labelExpr": "datum.value % 5000 === 0 ? datum.label : ''", "grid": false, "tickSize": {"condition": {"test": "datum.value % 5000 === 0", "value": 11}, "value": 6}, "labelPadding": 1, "title": null}}
   }}
 ],
 "resolve": {"axis": {"y": "independent"}}
}
]
}
